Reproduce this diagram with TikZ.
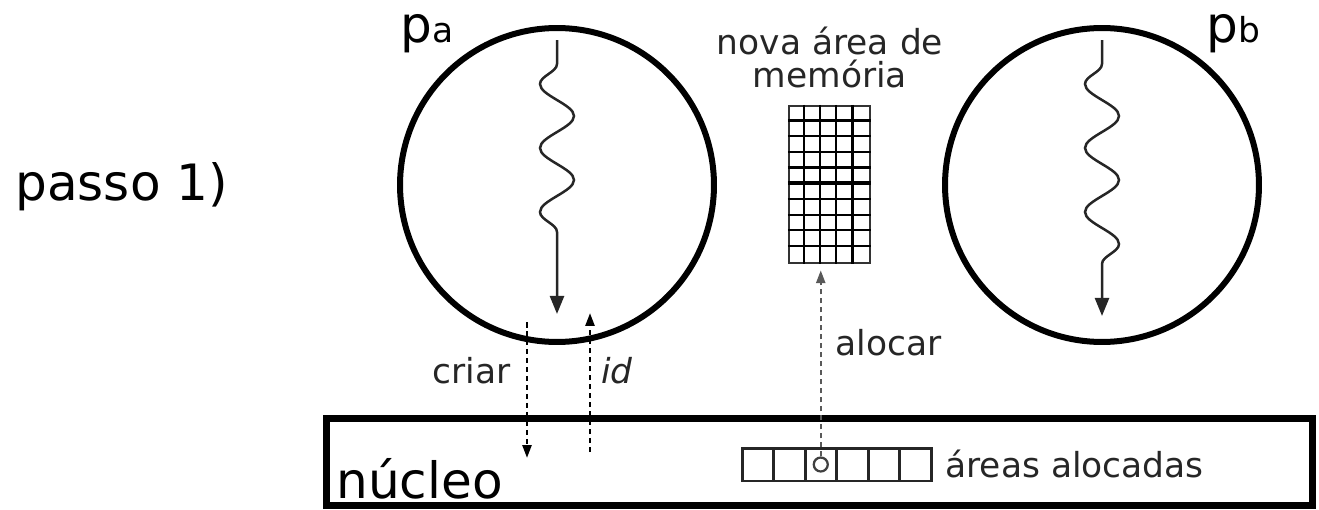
\documentclass[tikz,border=0pt]{standalone}
\usepackage{fontspec}
\setmainfont{DejaVu Sans}
\usetikzlibrary{arrows.meta,decorations.pathmorphing}
\newcommand\bigtxt{\fontsize{28.5}{34}\selectfont}
\newcommand\smalltxt{\fontsize{19.6}{23.5}\selectfont}
\tikzset{
  proc/.style={circle, draw, line width=0.12cm, minimum size=6.28cm, inner sep=0pt},
  thread/.style={decorate, decoration={snake, segment length=1.28cm, amplitude=-0.34cm,
    pre length=0.48cm, post length=1.04cm}, line width=0.05cm, black!85,
    -{Triangle[length=0.36cm, width=0.28cm]}},
  kernel/.style={draw, line width=0.14cm, minimum width=19.74cm, minimum height=1.76cm, inner sep=0pt},
  memgrid/.style={draw=black!80, line width=0.05cm, minimum width=1.62cm, minimum height=3.14cm, inner sep=0pt},
  gridline/.style={black, line width=0.045cm},
  cell/.style={draw=black!85, line width=0.06cm, minimum width=0.63cm, minimum height=0.66cm, inner sep=0pt},
  slotmark/.style={circle, draw=black!75, line width=0.045cm, minimum size=0.28cm, inner sep=0pt},
  callarrow/.style={-{Triangle[length=0.26cm, width=0.18cm]}, line width=0.05cm,
    dash pattern=on 0.11cm off 0.07cm},
  allocarrow/.style={callarrow, black!65},
  biglbl/.style={inner sep=0pt, font=\bigtxt},
  smalllbl/.style={inner sep=0pt, font=\smalltxt, text=black!85},
}
\begin{document}
\begin{tikzpicture}[x=0.02cm, y=-0.02cm]
  \useasboundingbox (0,0) rectangle (1319,510);
  % processes
  \node[proc] (pa) at (557,185) {};
  \node[proc] (pb) at (1102,185) {};
  \node[biglbl, anchor=base west] (palbl) at (400,43) {p{\smalltxt a}};
  \node[biglbl, anchor=base west] (pblbl) at (1206,43) {p{\smalltxt b}};
  \draw[thread] ([yshift=-0.3cm]pa.north) -- ([yshift=0.62cm]pa.south);
  \draw[thread] ([yshift=-0.3cm]pb.north) -- ([yshift=0.58cm]pb.south);
  \node[biglbl, anchor=base west] (passo) at (15,200) {passo 1)};
  % kernel
  \node[kernel] (kernel) at (819.5,462) {};
  \node[biglbl, anchor=base west] (nucleo) at (336,498) {núcleo};
  % new memory area
  \node[memgrid] (mem) at (829.5,184.5) {};
  \foreach \i in {1,...,4}
    \draw[gridline] ([xshift=\i*0.324cm]mem.north west) -- ([xshift=\i*0.324cm]mem.south west);
  \foreach \j in {1,...,9}
    \draw[gridline] ([yshift=-\j*0.314cm]mem.north west) -- ([yshift=-\j*0.314cm]mem.north east);
  \draw[gridline, line width=0.09cm] ([yshift=-5*0.314cm]mem.north west) -- ([yshift=-5*0.314cm]mem.north east);
  \node[smalllbl, anchor=base] (novaarea) at (830,55) {nova área de};
  \node[smalllbl, anchor=base] (memoria) at (830,88) {memória};
  % allocated areas
  \foreach \i in {1,...,6}
    \node[cell] (cell\i) at ({742+31.5*(\i-0.5)},464.5) {};
  \node[slotmark] (slot) at (cell3) {};
  \node[smalllbl, anchor=base west] (areas) at (945,477) {áreas alocadas};
  % calls
  \coordinate (criar-a) at (527,322);
  \coordinate (criar-b) at (527,458);
  \coordinate (id-a) at (590,452);
  \coordinate (id-b) at (590,313);
  \draw[callarrow] (criar-a) -- (criar-b);
  \draw[callarrow] (id-a) -- (id-b);
  \draw[allocarrow, shorten >=0.12cm] (slot.north) -- (slot.north |- mem.south);
  \node[smalllbl, anchor=base east] (criar) at (511,383) {criar};
  \node[smalllbl, anchor=base west] (id) at (601,383) {\itshape id};
  \node[smalllbl, anchor=base west] (alocar) at (835,355) {alocar};
\end{tikzpicture}
\end{document}
